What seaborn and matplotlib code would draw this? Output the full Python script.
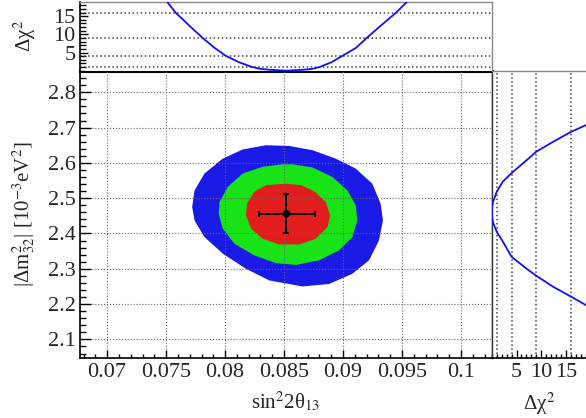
import matplotlib
matplotlib.use('Agg')
import matplotlib.pyplot as plt
import seaborn as sns
from matplotlib.ticker import MultipleLocator

# confidence regions: (sin^2 2theta13, |dm^2_32|)
blue_s13 = [0.07980, 0.07825, 0.07741, 0.07721, 0.07741, 0.07825, 0.07980, 0.08177,
            0.08375, 0.08656, 0.08882, 0.09079, 0.09220, 0.09304, 0.09338, 0.09318,
            0.09248, 0.09107, 0.08938, 0.08741, 0.08544, 0.08346, 0.08149]
blue_dm = [2.612, 2.570, 2.522, 2.475, 2.437, 2.390, 2.343, 2.300,
           2.267, 2.250, 2.257, 2.286, 2.324, 2.380, 2.437, 2.485,
           2.541, 2.584, 2.612, 2.636, 2.648, 2.650, 2.638]

green_s13 = [0.08487, 0.08318, 0.08149, 0.08023, 0.07952, 0.07946, 0.07980, 0.08079,
             0.08248, 0.08431, 0.08600, 0.08797, 0.08966, 0.09079, 0.09121, 0.09107,
             0.09037, 0.08910, 0.08741, 0.08572]
green_dm = [2.596, 2.589, 2.570, 2.532, 2.489, 2.456, 2.414, 2.371,
            2.338, 2.316, 2.311, 2.324, 2.352, 2.390, 2.437, 2.480,
            2.522, 2.560, 2.587, 2.596]

red_s13 = [0.08515, 0.08346, 0.08248, 0.08186, 0.08177, 0.08220, 0.08318, 0.08459,
           0.08628, 0.08769, 0.08868, 0.08890, 0.08854, 0.08755, 0.08642]
red_dm = [2.541, 2.537, 2.518, 2.485, 2.452, 2.414, 2.385, 2.369,
          2.369, 2.385, 2.418, 2.451, 2.489, 2.520, 2.537]

# best fit and 1 sigma errors
best_s13 = 0.0852
best_dm = 2.456
s13_err = [0.0829, 0.0876]
dm_err = [2.400, 2.513]

# delta chi2 profiles
s13_scan = [0.0751, 0.0758, 0.0770, 0.0781, 0.0791, 0.0801, 0.0812, 0.0823, 0.0830,
            0.0838, 0.0852, 0.0866, 0.0874, 0.0880, 0.0890, 0.0899, 0.0911, 0.0920,
            0.0932, 0.0945, 0.0954]
chi2_s13 = [18.9, 16.0, 12.3, 9.0, 6.3, 4.0, 2.3, 1.0, 0.5,
            0.25, 0.0, 0.25, 0.5, 1.0, 2.3, 4.0, 6.3, 9.0,
            12.4, 16.0, 18.9]

dm_scan = [2.707, 2.688, 2.660, 2.632, 2.608, 2.571, 2.547, 2.518, 2.489, 2.474,
           2.460, 2.446, 2.432, 2.405, 2.377, 2.334, 2.300, 2.280, 2.249, 2.221, 2.197]
chi2_dm = [19.0, 16.0, 12.4, 9.0, 7.06, 4.0, 2.25, 1.0, 0.25, 0.06,
           0.0, 0.06, 0.25, 1.0, 2.25, 4.0, 7.06, 9.0, 12.4, 16.0, 19.0]

chi2_levels = [1, 4, 9, 16]

sns.set_theme(style='ticks', rc={'axes.linewidth': 1.2})
plt.rcParams['font.family'] = ['Liberation Serif', 'DejaVu Serif']
plt.rcParams['mathtext.fontset'] = 'stix'
fs = 15
tfs = 16

fig = plt.figure(figsize=(5.86, 4.18), dpi=100)
ax = fig.add_axes([0.1365, 0.1447, 0.7026, 0.6862])
ax_top = fig.add_axes([0.1365, 0.8309, 0.7026, 0.1643])
ax_r = fig.add_axes([0.8391, 0.1447, 0.1609, 0.6862])

xlim = (0.0677, 0.1026)
ylim = (2.0487, 2.8612)

# main panel
ax.fill(blue_s13, blue_dm, color='#1a1ae6', lw=0, zorder=1)
ax.fill(green_s13, green_dm, color='#17e317', lw=0, zorder=1.1)
ax.fill(red_s13, red_dm, color='#e31c1c', lw=0, zorder=1.2)
ax.errorbar(best_s13, best_dm,
            xerr=[[best_s13 - s13_err[0]], [s13_err[1] - best_s13]],
            yerr=[[best_dm - dm_err[0]], [dm_err[1] - best_dm]],
            fmt='none', ecolor='black', elinewidth=1.3, capsize=2.5, capthick=1.3, zorder=4)
sns.scatterplot(x=[best_s13], y=[best_dm], color='black', s=30, edgecolor='none',
                ax=ax, zorder=5)
ax.set_xlim(xlim)
ax.set_ylim(ylim)
ax.set_axisbelow(False)
ax.grid(True, ls=':', color='#666666', lw=0.8)
ax.xaxis.set_minor_locator(MultipleLocator(0.001))
ax.yaxis.set_major_locator(MultipleLocator(0.1))
ax.yaxis.set_minor_locator(MultipleLocator(0.02))
ax.set_xticks([0.07, 0.075, 0.08, 0.085, 0.09, 0.095, 0.1])
ax.set_xticklabels(['0.07', '0.075', '0.08', '0.085', '0.09', '0.095', '0.1'])
ax.tick_params(which='both', direction='in', top=False, right=False, labelsize=tfs, color='black')
ax.tick_params(axis='x', which='major', length=6, width=1, pad=4)
ax.tick_params(axis='x', which='minor', length=3, width=1)
ax.tick_params(axis='y', which='major', length=8, width=1, pad=3)
ax.tick_params(axis='y', which='minor', length=4, width=1)
ax.set_xlabel(r'sin$^{2}$2θ$_{13}$', fontsize=fs)
ax.set_ylabel(r'|Δm$^{2}_{32}$| [10$^{-3}$eV$^{2}$]', fontsize=fs)
ax.xaxis.set_label_coords(0.5, -0.112)
ax.yaxis.set_label_coords(-0.105, 0.5)
ax.spines['top'].set_linewidth(2.2)
ax.spines['top'].set_color('black')
ax.spines['right'].set_color('#555555')
ax.spines['right'].set_linewidth(1)
ax.spines['left'].set_color('black')
ax.spines['bottom'].set_color('black')

# top panel: chi2 vs sin^2 2theta13
for lvl in chi2_levels:
    ax_top.axhline(lvl, ls=':', color='#444444', lw=1.1, zorder=1)
sns.lineplot(x=s13_scan, y=chi2_s13, ax=ax_top, color='#1010ff', lw=1.3,
             sort=False, estimator=None, zorder=3)
ax_top.set_xlim(xlim)
ax_top.set_ylim(0, 18.9)
ax_top.set_xticks([])
ax_top.set_yticks([5, 10, 15])
ax_top.yaxis.set_minor_locator(MultipleLocator(1))
ax_top.tick_params(axis='y', which='both', direction='in', labelsize=tfs, pad=3, color='black')
ax_top.tick_params(axis='y', which='major', length=6, width=1)
ax_top.tick_params(axis='y', which='minor', length=4, width=1)
ax_top.set_ylabel(r'Δχ$^{2}$', fontsize=fs)
ax_top.yaxis.set_label_coords(-0.103, 0.5)
ax_top.spines['bottom'].set_visible(False)
ax_top.spines['left'].set_color('black')
for side in ['top', 'right']:
    ax_top.spines[side].set_color('#888888')
    ax_top.spines[side].set_linewidth(1)

# right panel: chi2 vs |dm^2_32|
for lvl in chi2_levels:
    ax_r.axvline(lvl, ls=':', color='#444444', lw=1.1, zorder=1)
sns.lineplot(x=chi2_dm, y=dm_scan, ax=ax_r, color='#1010ff', lw=1.3,
             sort=False, estimator=None, zorder=3)
ax_r.set_ylim(ylim)
ax_r.set_xlim(0, 19)
ax_r.set_yticks([])
ax_r.set_xticks([5, 10, 15])
ax_r.xaxis.set_minor_locator(MultipleLocator(1))
ax_r.tick_params(axis='x', which='both', direction='in', labelsize=tfs, pad=4, color='black')
ax_r.tick_params(axis='x', which='major', length=6, width=1)
ax_r.tick_params(axis='x', which='minor', length=3, width=1)
ax_r.set_xlabel(r'Δχ$^{2}$', fontsize=fs)
ax_r.xaxis.set_label_coords(0.5, -0.115)
ax_r.set_ylabel('')
ax_r.spines['right'].set_visible(False)
ax_r.spines['left'].set_color('#333333')
ax_r.spines['left'].set_linewidth(1)
ax_r.spines['top'].set_color('#888888')
ax_r.spines['top'].set_linewidth(1)
ax_r.spines['bottom'].set_color('black')

fig.savefig('out.png', dpi=100)
